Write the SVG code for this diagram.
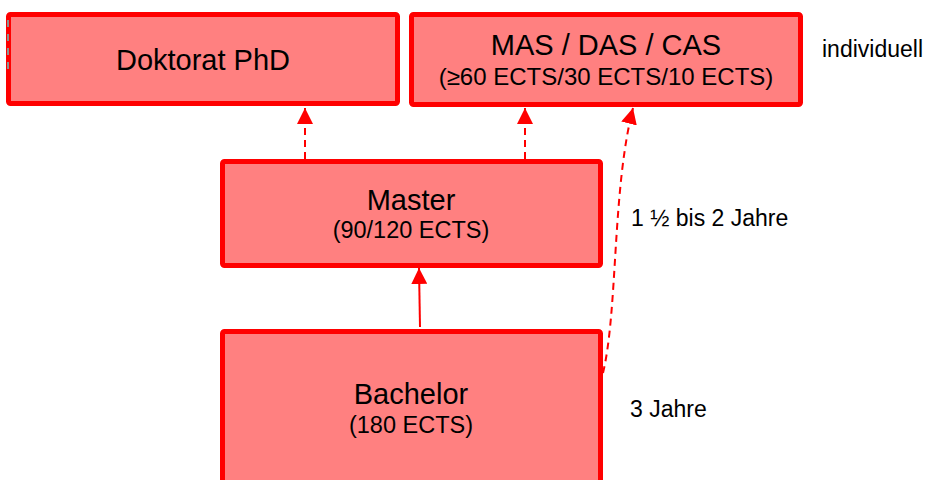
<svg xmlns="http://www.w3.org/2000/svg" width="927" height="480" viewBox="0 0 927 480">
  <style>
    .box { fill: #FF8080; stroke: #FF0000; stroke-width: 5; }
    .t { font-family: "Liberation Sans", Arial, sans-serif; fill: #000; text-anchor: middle; }
    .big { font-size: 29px; }
    .small { font-size: 23.5px; }
    .lbl { font-family: "Liberation Sans", Arial, sans-serif; font-size: 23px; fill: #000; }
    .dash { fill: none; stroke: #FF0000; stroke-width: 2; stroke-dasharray: 7 5; }
    .solid { fill: none; stroke: #FF0000; stroke-width: 2; }
  </style>
  <defs>
    <marker id="arr" markerUnits="userSpaceOnUse" markerWidth="16" markerHeight="16" viewBox="0 0 15 15" refX="15" refY="7.5" orient="auto">
      <path d="M0,0 L15,7.5 L0,15 z" fill="#FF0000"/>
    </marker>
  </defs>
  <rect width="927" height="480" fill="#FFFFFF"/>

  <g id="connectors">
    <line class="dash" x1="305" y1="159" x2="305" y2="108" marker-end="url(#arr)"/>
    <line class="dash" x1="525" y1="159" x2="525" y2="108" marker-end="url(#arr)"/>
    <line class="solid" x1="420" y1="327" x2="419" y2="268" marker-end="url(#arr)"/>
    <path class="dash" d="M603,373 C618,310 612,190 633,108" marker-end="url(#arr)"/>
  </g>

  <g id="doktorat">
    <rect class="box" x="8.5" y="14.5" width="389" height="89" rx="2"/>
    <line x1="8" y1="20" x2="8" y2="72" stroke="#909090" stroke-width="2" stroke-dasharray="7 7"/>
    <text class="t big" x="203" y="70">Doktorat PhD</text>
  </g>

  <g id="mas">
    <rect class="box" x="411.5" y="14.5" width="389" height="90" rx="2"/>
    <text class="t big" x="606" y="55">MAS / DAS / CAS</text>
    <text class="t small" x="606" y="85" style="font-size:24px">(≥60 ECTS/30 ECTS/10 ECTS)</text>
  </g>

  <g id="master">
    <rect class="box" x="222.5" y="161.5" width="378" height="104" rx="2"/>
    <text class="t big" x="411" y="210">Master</text>
    <text class="t small" x="411" y="238">(90/120 ECTS)</text>
  </g>

  <g id="bachelor">
    <rect class="box" x="222.5" y="331.5" width="378" height="170" rx="2"/>
    <text class="t big" x="411" y="404">Bachelor</text>
    <text class="t small" x="411" y="433">(180 ECTS)</text>
  </g>

  <g id="labels">
    <text class="lbl" x="822" y="57">individuell</text>
    <text class="lbl" x="631" y="226">1 ½ bis 2 Jahre</text>
    <text class="lbl" x="630" y="417">3 Jahre</text>
  </g>
</svg>
